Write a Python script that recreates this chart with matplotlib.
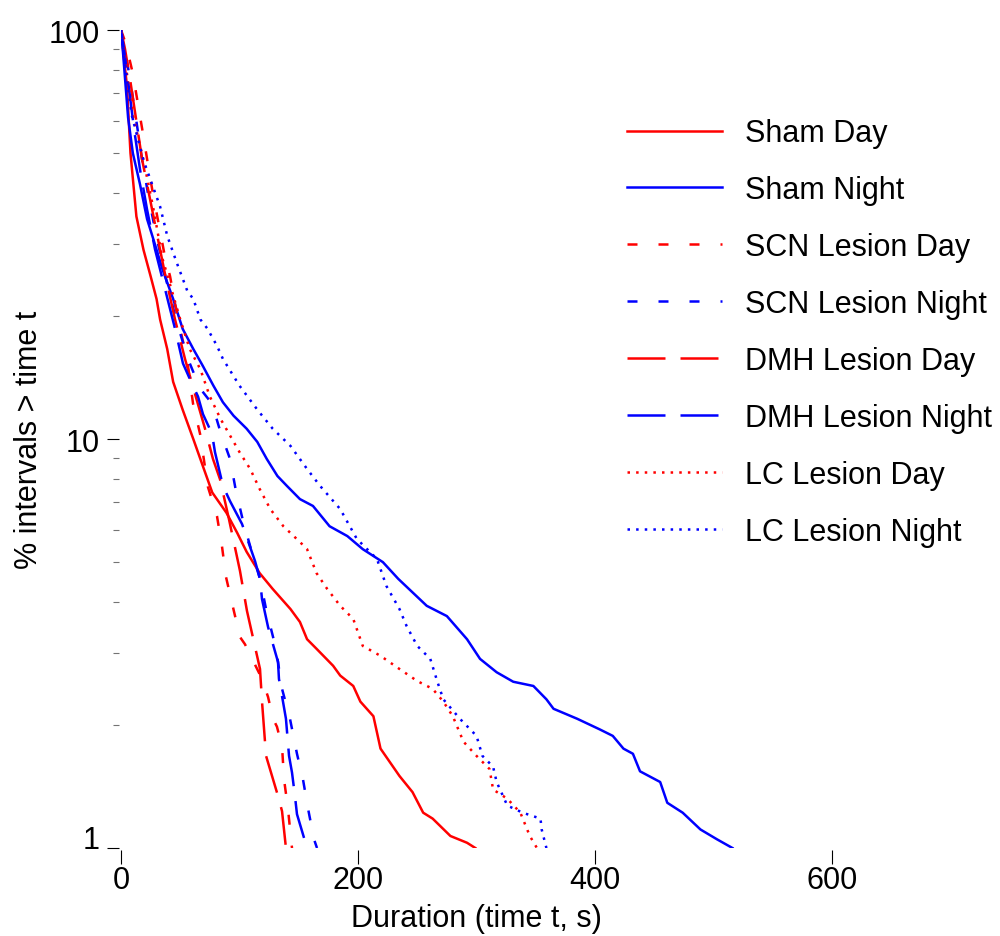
import numpy as np
import matplotlib.pyplot as plt
from matplotlib.ticker import FixedLocator, NullFormatter

plt.rcParams['font.family'] = ['Liberation Sans', 'DejaVu Sans']
plt.rcParams['font.size'] = 22

# survival curves: duration (s) vs % of intervals longer than t
sham_day_t = [0, 5, 8, 13, 19, 25, 30, 33, 39, 44, 52, 61, 69, 77, 89, 98, 106, 117, 128, 143,
              151, 157, 165, 179, 185, 196, 202, 213, 219, 235, 246, 255, 263, 278, 292, 299]
sham_day_pct = [100, 73, 50, 35, 29, 25, 22, 19.6, 16.6, 13.8, 11.8, 10, 8.6, 7.4, 6.6, 5.9, 5.3, 4.7, 4.3, 3.84,
                3.57, 3.24, 3.07, 2.79, 2.64, 2.49, 2.28, 2.10, 1.75, 1.5, 1.37, 1.22, 1.18, 1.07, 1.03, 1.0]

sham_night_t = [0, 1.7, 6, 10, 16, 22, 27, 35, 44, 52, 61, 69, 78, 86, 95, 106, 115, 123, 132, 140, 151,
                162, 176, 191, 204, 221, 234, 258, 275, 292, 303, 317, 331, 348, 359, 365, 385, 404, 415,
                424, 432, 438, 455, 461, 474, 489, 503, 516]
sham_night_pct = [100, 88, 61, 50, 42, 34.5, 31, 26, 22, 18.6, 16.6, 15.1, 13.5, 12.3, 11.4, 10.6, 9.84, 8.94,
                  8.12, 7.68, 7.13, 6.86, 6.12, 5.79, 5.38, 5.0, 4.55, 3.91, 3.69, 3.24, 2.9, 2.69, 2.55, 2.49,
                  2.31, 2.19, 2.07, 1.95, 1.88, 1.75, 1.70, 1.54, 1.45, 1.29, 1.22, 1.11, 1.05, 1.0]

scn_day_t = [0, 4.2, 10.1, 14.3, 18.6, 22.8, 27, 32.1, 37.1, 41.4, 48.1, 55.7, 60.8, 66.7, 73.4, 81, 85.2,
             88.6, 94.5, 100.4, 104.6, 119, 124.1, 128.3, 131.6, 135.9, 137.6, 140.9, 143.5, 144.3]
scn_day_pct = [100, 92.4, 78, 65.9, 55.7, 46.8, 39.7, 33.2, 27.9, 25, 19.6, 15.7, 12.2, 10.3, 7.63, 6.48, 5.47,
               4.6, 3.88, 3.28, 3.15, 2.59, 2.34, 2.07, 1.98, 1.77, 1.47, 1.25, 1.05, 1.0]

scn_night_t = [0, 2.5, 7.6, 12.7, 17.7, 23.6, 30.4, 38, 46.4, 56.5, 66.7, 76.8, 84.4, 92, 97, 103, 109.7,
               117.3, 122.4, 130.8, 135.9, 142.6, 148.5, 153.6, 157.8, 162.9, 165.4]
scn_night_pct = [100, 92.4, 75.9, 60.6, 48.4, 38.6, 30.8, 24.6, 19.6, 15.7, 13.3, 12.2, 10.3, 8.94, 7.46, 6.3,
                 5.38, 4.55, 3.84, 3.07, 2.45, 2.07, 1.7, 1.47, 1.25, 1.05, 1.0]

dmh_day_t = [0, 3.4, 7.6, 12.7, 17.7, 24.5, 31.2, 38, 45.6, 54, 62.4, 70.9, 77.6, 83.5, 91.1, 100.4, 106.3,
             117.3, 119, 122.4, 132.5, 135.9, 139.2]
dmh_day_pct = [100, 89.8, 75.9, 60.6, 48.4, 38.6, 30.8, 24.6, 19.6, 15.7, 12.9, 10.6, 8.94, 7.98, 6.37, 4.76,
               3.8, 2.74, 2.28, 1.68, 1.34, 1.23, 1.0]

dmh_night_t = [0, 2.5, 6.8, 11, 16, 21.9, 28.7, 37.1, 45.6, 52.3, 58.2, 65, 69.2, 76.8, 79.3, 86.1, 92, 102.1,
               106.3, 113.1, 117.3, 119, 124.1, 132.5, 133.3, 136.7, 139.2, 141.8, 144.3, 146.8, 148.5, 157]
dmh_night_pct = [100, 89.8, 71.7, 57.3, 45.7, 36.5, 29.1, 23.3, 18.6, 15.3, 14, 12.7, 11.5, 10.3, 9.29, 7.67,
                 7.05, 6.2, 5.73, 5.03, 4.55, 4.06, 3.47, 2.85, 2.59, 2.28, 2.07, 1.68, 1.53, 1.34, 1.21, 1.0]

lc_day_t = [0, 4, 10, 19, 27, 35, 50, 58, 67, 75, 84, 92, 100, 109, 117, 126, 137, 151, 157, 165, 174, 185,
            196, 204, 219, 235, 250, 263, 272, 280, 289, 300, 311, 314, 326, 337, 345, 351]
lc_day_pct = [100, 82, 62, 48, 37, 27.6, 19.6, 16.6, 14.8, 12.7, 11.2, 10.2, 9.29, 8.45, 7.55, 6.74, 6.12, 5.6,
              5.38, 4.7, 4.3, 3.91, 3.63, 3.12, 2.95, 2.74, 2.56, 2.45, 2.28, 2.10, 1.82, 1.68, 1.56, 1.39,
              1.32, 1.22, 1.07, 1.0]

lc_night_t = [0, 4, 9, 19, 33, 39, 47, 56, 61, 67, 73, 81, 86, 100, 115, 128, 143, 157, 168, 185, 199, 216,
              224, 235, 241, 250, 261, 267, 272, 286, 300, 305, 314, 317, 326, 339, 354, 355, 359]
lc_night_pct = [100, 80, 62, 48, 37, 31.4, 27, 23, 22, 19.6, 18.6, 16.9, 15.7, 13.5, 11.8, 10.6, 9.62, 8.45,
                7.68, 6.74, 5.7, 5.09, 4.37, 3.84, 3.49, 3.12, 2.9, 2.55, 2.31, 2.07, 1.88, 1.68, 1.58, 1.45,
                1.27, 1.22, 1.18, 1.11, 1.0]

labels = ['Sham Day', 'Sham Night', 'SCN Lesion Day', 'SCN Lesion Night',
          'DMH Lesion Day', 'DMH Lesion Night', 'LC Lesion Day', 'LC Lesion Night']

short_dash = (0, (4.0, 8.4))
long_dash = (0, (15.2, 6.0))
dotted = (0, (1.0, 2.45))

series = [
    (sham_day_t, sham_day_pct, 'red', '-'),
    (sham_night_t, sham_night_pct, 'blue', '-'),
    (scn_day_t, scn_day_pct, 'red', short_dash),
    (scn_night_t, scn_night_pct, 'blue', short_dash),
    (dmh_day_t, dmh_day_pct, 'red', long_dash),
    (dmh_night_t, dmh_night_pct, 'blue', long_dash),
    (lc_day_t, lc_day_pct, 'red', dotted),
    (lc_night_t, lc_night_pct, 'blue', dotted),
]

fig = plt.figure(figsize=(10, 9.37), dpi=100)
ax = fig.add_axes([0.121, 0.0939, 0.711, 0.873])

for (t, pct, col, ls), lab in zip(series, labels):
    ax.plot(t, pct, color=col, linestyle=ls, linewidth=1.8, label=lab,
            dash_capstyle='butt', solid_joinstyle='round')

ax.set_yscale('log')
ax.set_xlim(0, 600)
ax.set_ylim(1, 100)

# no visible axis lines, only ticks
for s in ['top', 'right']:
    ax.spines[s].set_visible(False)
ax.spines['left'].set_position(('outward', 1.5))
ax.spines['bottom'].set_position(('outward', 11.5))
ax.spines['left'].set_color('none')
ax.spines['bottom'].set_color('none')

ax.set_xticks([0, 200, 400, 600])
ax.yaxis.set_major_locator(FixedLocator([1, 10, 100]))
ax.set_yticklabels(['1', '10', '100'])
minor = [v * d for d in [1, 10] for v in range(2, 10)]
ax.yaxis.set_minor_locator(FixedLocator(minor))
ax.yaxis.set_minor_formatter(NullFormatter())

ax.tick_params(axis='x', direction='in', length=10, width=0.8, color='black', pad=1, labelsize=22)
ax.tick_params(axis='y', which='major', direction='out', length=8.6, width=0.8, color='black', pad=5, labelsize=22)
ax.tick_params(axis='y', which='minor', direction='out', length=4.3, width=0.8, color='0.45')
ax.get_yticklabels()[0].set_verticalalignment('baseline')

ax.set_xlabel('Duration (time t, s)', fontsize=22)
ax.set_ylabel('% intervals > time t', fontsize=22)
ax.xaxis.set_label_coords(0.5, -0.067)
ax.yaxis.set_label_coords(-0.108, 0.5)

fig.legend(loc='upper left', bbox_to_anchor=(0.627, 0.8727), bbox_transform=fig.transFigure,
           frameon=False, fontsize=22, handlelength=3.1, handletextpad=0.75,
           labelspacing=0.88, borderpad=0, borderaxespad=0)

fig.savefig('out.png', dpi=100)
